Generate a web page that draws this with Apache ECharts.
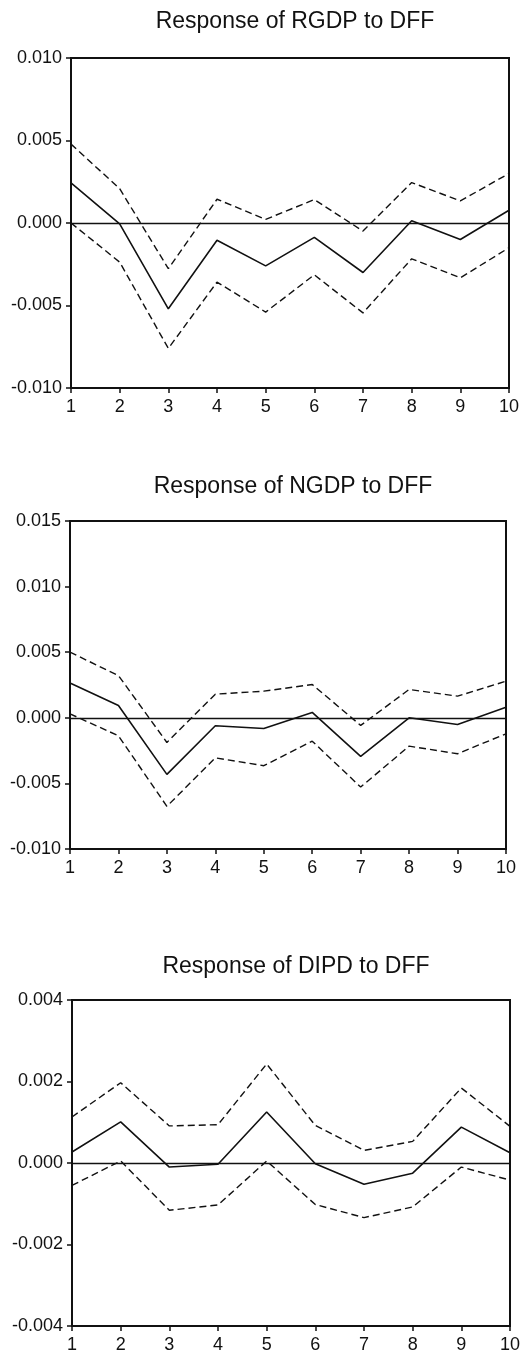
<!DOCTYPE html>
<html>
<head>
<meta charset="utf-8">
<script src="https://cdn.jsdelivr.net/npm/echarts@6/dist/echarts.min.js"></script>
<style>
html,body{margin:0;padding:0;background:#fff;}
#c{width:524px;height:1354px;}
</style>
</head>
<body>
<div id="c"></div>
<script>
// Periods
const periods = [1,2,3,4,5,6,7,8,9,10];
// Titles
const titles = ["Response of RGDP to DFF","Response of NGDP to DFF","Response of DIPD to DFF"];
// Panel 1: RGDP
const rgdpResp  = [0.00243,-0.00005,-0.0052,-0.00105,-0.0026,-0.00087,-0.0030,0.00014,-0.0010,0.00077];
const rgdpUpper = [0.00478,0.00208,-0.00277,0.00144,0.00022,0.00142,-0.00049,0.00245,0.00134,0.0030];
const rgdpLower = [0.0000,-0.00237,-0.0076,-0.00358,-0.0054,-0.00314,-0.00545,-0.00217,-0.00332,-0.0015];
// Panel 2: NGDP
const ngdpResp  = [0.00266,0.00094,-0.00431,-0.00061,-0.00081,0.00041,-0.00294,0.0000,-0.00051,0.00081];
const ngdpUpper = [0.0050,0.00322,-0.00188,0.0018,0.00203,0.00254,-0.00058,0.00216,0.00165,0.00279];
const ngdpLower = [0.0003,-0.00137,-0.00675,-0.00305,-0.00365,-0.00178,-0.00528,-0.00216,-0.00274,-0.00122];
// Panel 3: DIPD
const dipdResp  = [0.00027,0.00101,-0.0001,-0.00003,0.00125,-0.00002,-0.00052,-0.00025,0.00088,0.00025];
const dipdUpper = [0.00113,0.00197,0.00091,0.00094,0.00243,0.00092,0.00031,0.00053,0.00184,0.00090];
const dipdLower = [-0.00055,0.00005,-0.00116,-0.00103,0.00005,-0.00102,-0.00134,-0.00108,-0.0001,-0.00042];
// Y axis ranges / ticks
const yMin = [-0.010,-0.010,-0.004];
const yMax = [0.010,0.015,0.004];
const yStep = [0.005,0.005,0.002];

const FONT = '"Liberation Sans", Arial, Helvetica, sans-serif';
const grids = [
  {left:71, right:15, top:58, height:330},
  {left:70, right:18, top:521, height:328},
  {left:72, right:14, top:1000, height:327}
];
const titleTops = [5, 470, 950];

const resp = [rgdpResp, ngdpResp, dipdResp];
const upper = [rgdpUpper, ngdpUpper, dipdUpper];
const lower = [rgdpLower, ngdpLower, dipdLower];

const chart = echarts.init(document.getElementById('c'), null, {renderer:'canvas'});

const option = {
  backgroundColor:'#fff',
  animation:false,
  title: titles.map((t,i)=>({
    text:t,
    left: grids[i].left + (524-grids[i].left-grids[i].right)/2,
    textAlign:'center',
    top:titleTops[i],
    textStyle:{fontFamily:FONT,fontSize:23,fontWeight:'normal',color:'#111'}
  })),
  grid: grids.map(g=>Object.assign({show:true,borderColor:'#111',borderWidth:2,backgroundColor:'transparent'},g)),
  xAxis: grids.map((g,i)=>({
    type:'value', gridIndex:i, min:1, max:10, interval:1,
    axisLine:{show:true,onZero:false,lineStyle:{color:'#111',width:2}},
    axisTick:{show:true,inside:false,length:5,lineStyle:{color:'#111',width:1.5}},
    axisLabel:{fontFamily:FONT,fontSize:18,color:'#111',margin:10},
    splitLine:{show:false}
  })),
  yAxis: grids.map((g,i)=>({
    type:'value', gridIndex:i, min:yMin[i], max:yMax[i], interval:yStep[i],
    axisLine:{show:true,onZero:false,lineStyle:{color:'#111',width:2}},
    axisTick:{show:true,inside:false,length:5,lineStyle:{color:'#111',width:1.5}},
    axisLabel:{fontFamily:FONT,fontSize:18,color:'#111',margin:9,formatter:v=>v.toFixed(3)},
    splitLine:{show:false}
  })),
  series: []
};

for (let i=0;i<3;i++){
  const mk = arr => periods.map((p,k)=>[p,arr[k]]);
  option.series.push({
    type:'line', xAxisIndex:i, yAxisIndex:i, data:mk(resp[i]),
    symbol:'none', lineStyle:{color:'#111',width:1.6,type:'solid'},
    markLine:{silent:true,symbol:'none',label:{show:false},
      lineStyle:{color:'#111',width:1.4,type:'solid'},data:[{yAxis:0}]}
  });
  option.series.push({
    type:'line', xAxisIndex:i, yAxisIndex:i, data:mk(upper[i]),
    symbol:'none', lineStyle:{color:'#111',width:1.4,type:[7,4]}
  });
  option.series.push({
    type:'line', xAxisIndex:i, yAxisIndex:i, data:mk(lower[i]),
    symbol:'none', lineStyle:{color:'#111',width:1.4,type:[7,4]}
  });
}

chart.setOption(option);
</script>
</body>
</html>
